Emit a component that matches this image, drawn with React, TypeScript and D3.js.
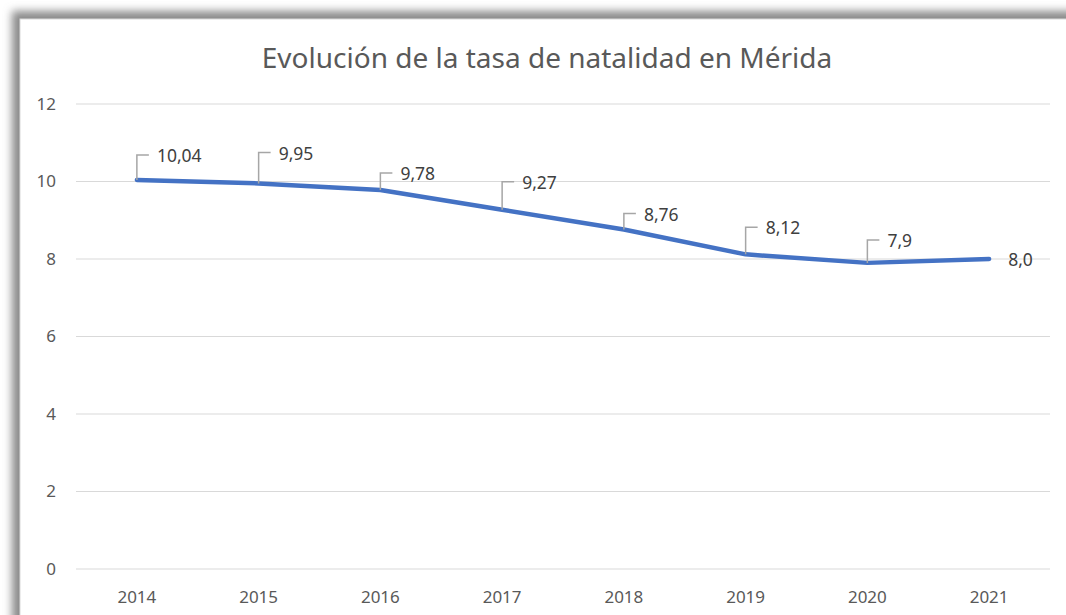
import React from 'react';
import * as d3 from 'd3';

const years = ['2014', '2015', '2016', '2017', '2018', '2019', '2020', '2021'];
const rates = [10.04, 9.95, 9.78, 9.27, 8.76, 8.12, 7.9, 8.0];
const rateLabels = ['10,04', '9,95', '9,78', '9,27', '8,76', '8,12', '7,9', '8,0'];
const yTicks = [0, 2, 4, 6, 8, 10, 12];

// how far each callout sits above its point (Excel placed them by hand); null = label to the right
const labelLift: (number | null)[] = [25, 31, 17, 28, 16, 27, 23, null];

const W = 1066;
const H = 615;
const font = '"Noto Sans", "Open Sans", sans-serif';

export default function App() {
  const x = d3.scaleBand<string>().domain(years).range([76, 1050]);
  const y = d3.scaleLinear().domain([0, 12]).range([569, 104]);
  const cx = (yr: string) => (x(yr) ?? 0) + x.bandwidth() / 2;

  const line = d3
    .line<number>()
    .x((_, i) => cx(years[i]))
    .y((d) => y(d));

  return (
    <svg
      width={W}
      height={H}
      style={{ position: 'absolute', left: 0, top: 0, background: '#fff' }}
    >
      <defs>
        <filter id="shadow" x="-5%" y="-5%" width="110%" height="110%">
          <feGaussianBlur stdDeviation="4.5" />
        </filter>
      </defs>

      {/* chart frame with soft shadow up-left */}
      <rect x={12} y={11} width={1200} height={800} fill="#8a8a8a" filter="url(#shadow)" />
      <rect x={20} y={19} width={1200} height={800} fill="#fff" stroke="#d9d9d9" strokeWidth={1} />

      <text
        x={547}
        y={68}
        textAnchor="middle"
        fontFamily={font}
        fontSize={28}
        fill="#595959"
      >
        Evolución de la tasa de natalidad en Mérida
      </text>

      {/* gridlines + y ticks */}
      {yTicks.map((t) => (
        <g key={t}>
          <line x1={76} x2={1050} y1={y(t)} y2={y(t)} stroke="#d9d9d9" strokeWidth={1} />
          <text
            x={56}
            y={y(t)}
            dy="0.35em"
            textAnchor="end"
            fontFamily={font}
            fontSize={17}
            fill="#595959"
          >
            {t}
          </text>
        </g>
      ))}

      {/* x labels */}
      {years.map((yr) => (
        <text
          key={yr}
          x={cx(yr)}
          y={597}
          dy="0.35em"
          textAnchor="middle"
          fontFamily={font}
          fontSize={17}
          fill="#595959"
        >
          {yr}
        </text>
      ))}

      <path
        d={line(rates) ?? ''}
        fill="none"
        stroke="#4472c4"
        strokeWidth={4.5}
        strokeLinecap="round"
        strokeLinejoin="round"
      />

      {/* data labels with leader lines */}
      {rates.map((v, i) => {
        const px = cx(years[i]);
        const py = y(v);
        const lift = labelLift[i];
        if (lift == null) {
          return (
            <text
              key={i}
              x={px + 19}
              y={py + 1}
              dy="0.35em"
              fontFamily={font}
              fontSize={17.5}
              fill="#404040"
            >
              {rateLabels[i]}
            </text>
          );
        }
        const top = py - lift;
        return (
          <g key={i}>
            <path
              d={`M${px},${py}V${top}H${px + 12}`}
              fill="none"
              stroke="#a6a6a6"
              strokeWidth={1.5}
            />
            <text
              x={px + 20}
              y={top + 1}
              dy="0.35em"
              fontFamily={font}
              fontSize={17.5}
              fill="#404040"
            >
              {rateLabels[i]}
            </text>
          </g>
        );
      })}
    </svg>
  );
}
